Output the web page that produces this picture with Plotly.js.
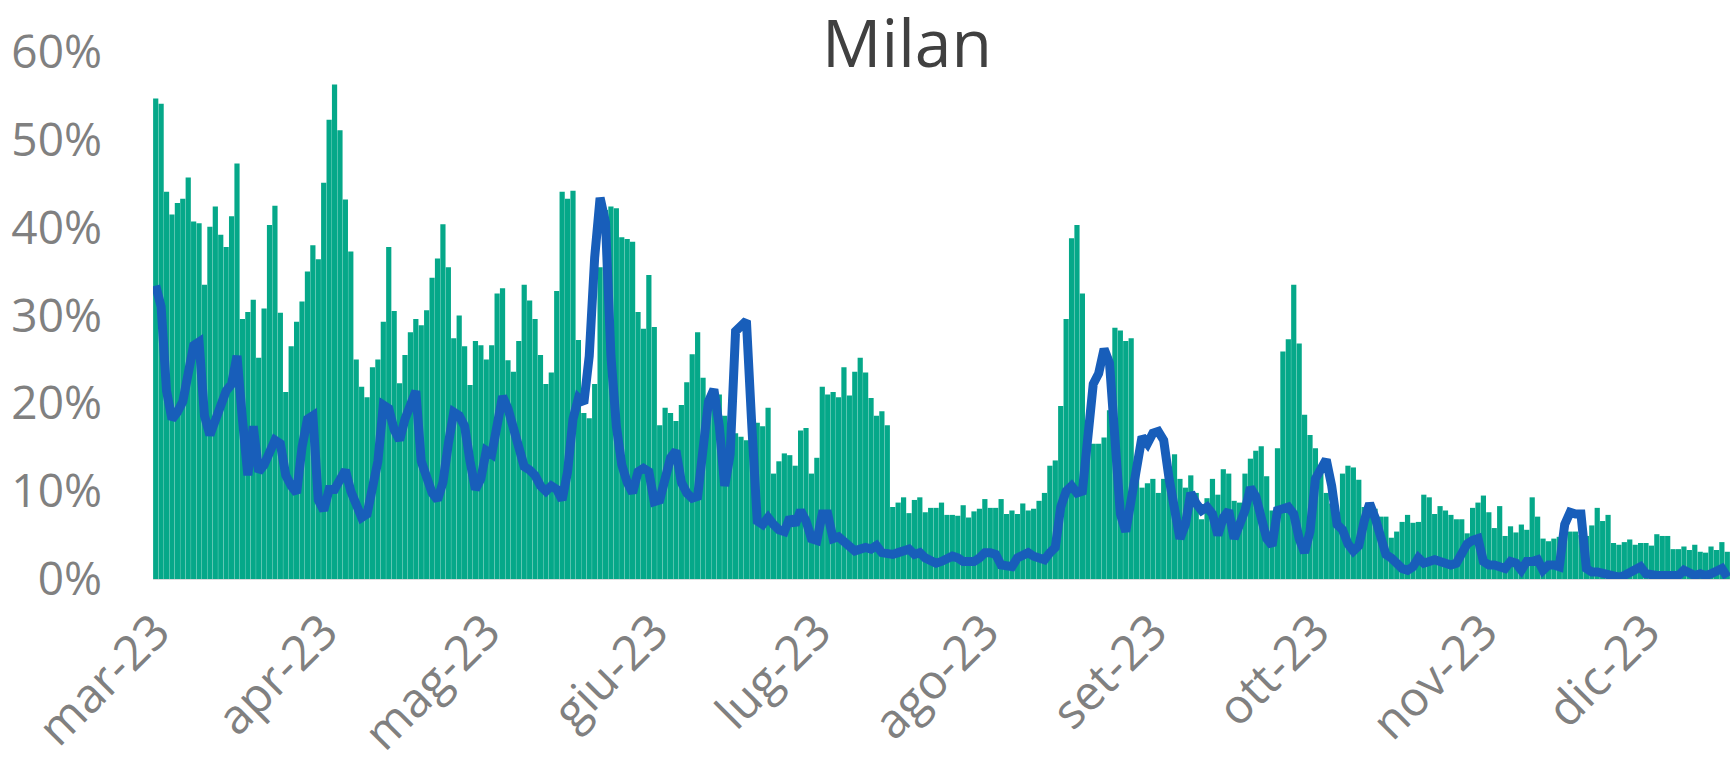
<!DOCTYPE html>
<html>
<head>
<meta charset="utf-8">
<script src="https://cdn.plot.ly/plotly-3.0.1.min.js"></script>
<style>
  html, body { margin: 0; padding: 0; background: #ffffff; }
  #chart { width: 1730px; height: 764px; }
</style>
</head>
<body>
<div id="chart"></div>
<script>
// First day of the daily series (each value is one day)
const startDate = '2023-03-01';

// Daily bars (percent), 1 Mar 2023 -> 16 Dec 2023
const barValues = [
  54.7, 54.1, 44.1, 41.5, 42.8, 43.3, 45.7, 40.7, 40.5, 33.5,
  40.1, 42.4, 39.2, 37.8, 41.3, 47.3, 29.6, 30.4, 31.8, 25.2,
  30.8, 40.3, 42.5, 30.3, 21.3, 26.5, 29.3, 31.6, 35.0, 38.0,
  36.4, 45.1, 52.3, 56.3, 51.1, 43.2, 37.3, 25.0, 21.9, 20.7,
  24.1, 25.0, 29.3, 37.8, 30.5, 22.3, 25.5, 28.1, 29.6, 28.9,
  30.6, 34.3, 36.5, 40.4, 35.5, 27.4, 30.0, 26.5, 22.1, 27.1,
  26.6, 25.0, 26.6, 32.5, 33.1, 24.9, 23.6, 27.1, 33.5, 31.7,
  29.6, 25.5, 22.2, 23.5, 32.8, 44.1, 43.3, 44.2, 27.2, 18.9,
  18.3, 22.2, 35.5, 42.0, 42.4, 42.2, 38.9, 38.7, 38.4, 30.4,
  28.5, 34.6, 28.7, 17.5, 19.5, 18.9, 18.0, 19.8, 22.4, 25.6,
  28.1, 22.9, 19.8, 21.0, 21.0, 18.6, 17.5, 16.6, 16.2, 15.8,
  17.0, 17.8, 17.4, 19.5, 12.0, 13.4, 14.3, 14.1, 12.9, 16.9,
  17.2, 12.0, 13.8, 21.9, 21.0, 21.3, 20.7, 24.1, 20.9, 23.6,
  25.2, 23.5, 20.6, 18.6, 19.1, 17.5, 8.2, 8.7, 9.3, 7.5,
  9.0, 9.3, 7.6, 8.1, 8.1, 8.7, 7.3, 7.3, 7.2, 8.4,
  7.0, 7.7, 8.0, 9.1, 8.1, 8.1, 9.1, 7.4, 7.8, 7.4,
  8.6, 7.8, 8.0, 8.9, 9.8, 12.9, 13.5, 19.7, 29.6, 38.8,
  40.3, 32.5, 15.8, 15.4, 15.4, 16.1, 19.2, 28.6, 28.3, 27.1,
  27.4, 12.0, 10.4, 10.9, 11.4, 9.8, 11.4, 12.8, 14.2, 11.4,
  10.4, 11.8, 9.8, 6.8, 9.2, 11.4, 9.6, 12.5, 12.0, 8.9,
  8.7, 12.0, 13.7, 14.6, 15.1, 11.7, 7.8, 14.9, 25.9, 27.3,
  33.5, 26.8, 18.7, 16.4, 14.9, 12.2, 9.8, 8.6, 7.2, 12.0,
  12.9, 12.7, 11.3, 8.2, 7.8, 8.0, 7.1, 7.1, 4.7, 5.4,
  6.5, 7.3, 6.4, 6.5, 9.6, 9.3, 7.4, 8.3, 7.8, 7.3,
  6.8, 6.8, 5.2, 8.1, 8.7, 9.5, 7.6, 5.8, 8.3, 4.9,
  6.0, 5.3, 6.2, 5.6, 9.3, 7.1, 4.6, 4.3, 4.6, 4.8,
  5.0, 5.4, 5.4, 5.0, 4.9, 6.1, 8.1, 6.6, 7.3, 4.1,
  3.9, 4.2, 4.5, 3.9, 4.1, 4.1, 3.8, 5.1, 4.9, 4.9,
  3.4, 3.4, 3.7, 3.3, 3.9, 3.1, 3.0, 3.7, 3.3, 4.2,
  3.1
];

// Daily line (percent)
const lineValues = [
  33.4, 31.0, 21.4, 18.2, 19.0, 20.2, 23.4, 26.6, 27.0, 18.6,
  16.4, 18.2, 20.2, 21.4, 22.2, 25.4, 18.2, 11.8, 17.4, 12.2,
  13.0, 14.6, 15.8, 15.4, 11.8, 10.6, 9.8, 15.0, 18.2, 18.6,
  9.0, 7.8, 10.2, 10.2, 11.4, 12.4, 10.0, 8.6, 7.0, 7.4,
  10.2, 13.4, 19.8, 19.4, 17.0, 15.8, 18.2, 20.2, 21.4, 13.4,
  11.4, 9.8, 9.0, 11.0, 15.4, 19.0, 18.6, 17.4, 13.4, 10.2,
  11.4, 14.6, 14.2, 17.8, 20.8, 19.4, 17.4, 15.0, 12.8, 12.4,
  11.8, 10.6, 10.0, 10.6, 10.2, 9.0, 12.2, 18.2, 20.6, 20.0,
  25.4, 36.6, 43.4, 40.6, 25.4, 17.4, 13.0, 11.0, 9.8, 12.2,
  12.6, 12.2, 8.8, 9.0, 11.8, 13.8, 14.6, 11.0, 9.8, 9.2,
  9.4, 15.4, 20.2, 21.6, 17.4, 10.6, 14.2, 28.2, 29.0, 29.4,
  17.4, 6.6, 6.2, 7.0, 6.2, 5.6, 5.4, 7.0, 6.2, 7.8,
  6.6, 4.6, 4.4, 7.4, 7.4, 4.6, 4.8, 4.2, 3.6, 3.2,
  3.4, 3.6, 3.4, 3.8, 3.0, 2.8, 2.8, 3.0, 3.2, 3.4,
  2.8, 3.0, 2.4, 2.0, 1.8, 2.0, 2.4, 2.6, 2.4, 2.0,
  2.0, 2.0, 2.4, 3.0, 3.0, 2.8, 1.6, 1.6, 1.4, 2.4,
  2.8, 3.0, 2.6, 2.4, 2.2, 3.0, 3.6, 8.2, 10.0, 10.6,
  9.8, 10.0, 15.4, 22.2, 23.4, 26.2, 24.6, 17.4, 7.4, 5.4,
  9.0, 13.4, 16.2, 15.4, 16.6, 16.8, 15.8, 11.4, 7.8, 4.6,
  6.2, 9.8, 8.6, 7.8, 8.2, 7.4, 5.0, 7.0, 7.8, 4.6,
  6.2, 7.8, 10.4, 9.4, 7.0, 4.6, 3.8, 7.8, 8.0, 8.2,
  7.4, 4.6, 3.0, 5.4, 11.4, 12.6, 13.6, 10.6, 6.2, 5.6,
  4.0, 3.2, 3.8, 6.6, 8.6, 7.0, 4.6, 2.8, 2.4, 1.8,
  1.2, 1.0, 1.4, 2.4, 1.8, 2.0, 2.2, 2.0, 1.8, 1.6,
  1.8, 3.0, 4.0, 4.4, 4.6, 2.0, 1.6, 1.6, 1.4, 1.2,
  2.0, 1.8, 1.0, 2.0, 2.0, 2.2, 1.0, 1.6, 1.6, 1.4,
  6.2, 7.6, 7.4, 7.4, 1.2, 0.8, 0.8, 0.6, 0.4, 0.2,
  0.2, 0.4, 0.8, 1.2, 1.4, 0.6, 0.4, 0.4, 0.4, 0.4,
  0.4, 0.4, 1.0, 0.6, 0.4, 0.6, 0.4, 0.6, 0.8, 1.2,
  0.2
];

// Month tick positions and labels
const tickDates = ['2023-03-01', '2023-04-01', '2023-05-01', '2023-06-01', '2023-07-01',
                   '2023-08-01', '2023-09-01', '2023-10-01', '2023-11-01', '2023-12-01'];
const tickLabels = ['mar-23', 'apr-23', 'mag-23', 'giu-23', 'lug-23',
                    'ago-23', 'set-23', 'ott-23', 'nov-23', 'dic-23'];
const yTicks = [0, 10, 20, 30, 40, 50, 60];
const yTickLabels = ['0%', '10%', '20%', '30%', '40%', '50%', '60%'];

function dayString(offset) {
  const d = new Date(startDate + 'T00:00:00Z');
  d.setUTCDate(d.getUTCDate() + offset);
  return d.toISOString().slice(0, 10);
}
const dates = barValues.map((_, i) => dayString(i));

function shiftHours(dateStr, hours) {
  const d = new Date(dateStr + 'T00:00:00Z');
  d.setUTCHours(d.getUTCHours() + hours);
  return d.toISOString().slice(0, 19).replace('T', ' ');
}
const xStart = shiftHours(dates[0], -12);
const xEnd = shiftHours(dates[dates.length - 1], 12);

const traces = [
  {
    type: 'bar',
    x: dates,
    y: barValues,
    marker: { color: '#05A889', line: { width: 0 } },
    hoverinfo: 'skip',
    showlegend: false
  },
  {
    type: 'scatter',
    mode: 'lines',
    x: dates,
    y: lineValues,
    line: { color: '#185EBA', width: 9 },
    hoverinfo: 'skip',
    showlegend: false
  }
];

const layout = {
  width: 1730,
  height: 764,
  margin: { l: 153, r: 0, t: 52, b: 185, pad: 0 },
  paper_bgcolor: '#ffffff',
  plot_bgcolor: '#ffffff',
  bargap: 0.04,
  showlegend: false,
  title: {
    text: 'Milan',
    x: 0.5243,
    xref: 'container',
    xanchor: 'center',
    y: 0.942,
    yref: 'container',
    yanchor: 'middle',
    font: { family: 'Open Sans, sans-serif', size: 66, color: '#404040' }
  },
  xaxis: {
    type: 'date',
    range: [xStart, xEnd],
    tickmode: 'array',
    tickvals: tickDates,
    ticktext: tickLabels,
    tickangle: -45,
    tickfont: { family: 'Open Sans, sans-serif', size: 48, color: '#808080' },
    ticks: '',
    ticklabelstandoff: 4,
    showgrid: false,
    zeroline: false,
    showline: true,
    linecolor: '#d9d9d9',
    linewidth: 1
  },
  yaxis: {
    range: [0, 60],
    tickmode: 'array',
    tickvals: yTicks,
    ticktext: yTickLabels,
    tickfont: { family: 'Open Sans, sans-serif', size: 46, color: '#808080' },
    ticks: '',
    ticklabelstandoff: 50,
    showgrid: false,
    zeroline: false,
    showline: false
  }
};

Plotly.newPlot('chart', traces, layout, { displayModeBar: false, staticPlot: true });
</script>
</body>
</html>
